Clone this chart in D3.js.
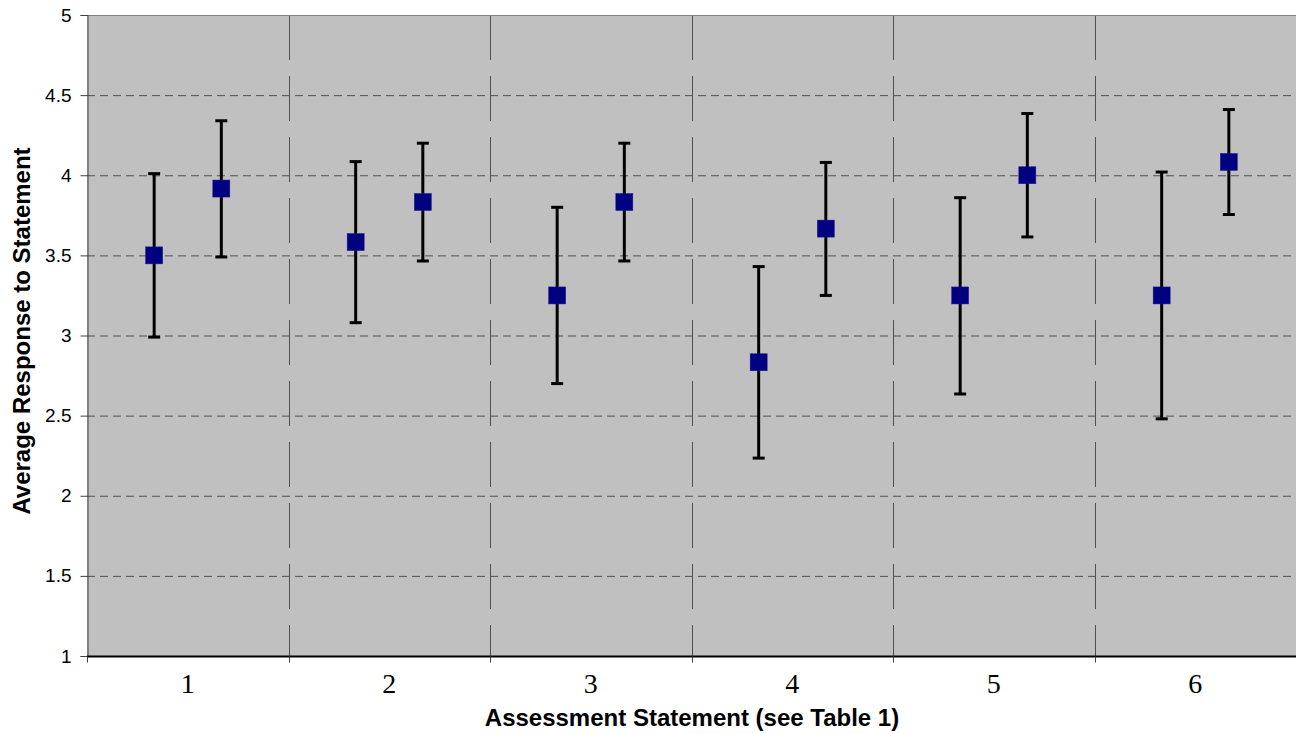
<!DOCTYPE html>
<html><head><meta charset="utf-8">
<script src="https://cdn.jsdelivr.net/npm/d3@7"></script>
<style>html,body{margin:0;padding:0;background:#fff;}svg{display:block;}</style>
</head><body>
<svg id="c" width="1296" height="734"></svg>
<script>
const categories = ["1","2","3","4","5","6"];
const seriesA = [3.5, 3.583, 3.25, 2.833, 3.25, 3.25];
const seriesAHigh = [4.01, 4.085, 3.80, 3.43, 3.86, 4.02];
const seriesALow = [2.99, 3.08, 2.70, 2.235, 2.635, 2.48];
const seriesB = [3.917, 3.833, 3.833, 3.667, 4.0, 4.083];
const seriesBHigh = [4.34, 4.20, 4.20, 4.08, 4.385, 4.41];
const seriesBLow = [3.49, 3.465, 3.465, 3.25, 3.615, 3.755];
const yTicks = [1, 1.5, 2, 2.5, 3, 3.5, 4, 4.5, 5];

const svg = d3.select("#c");
const L = 87, R = 1296, T = 15, B = 656;
const x = d3.scaleBand().domain(categories).range([L, R]).padding(0);
const y = d3.scaleLinear().domain([1, 5]).range([B, T]);

svg.append("rect").attr("x", L).attr("y", T).attr("width", R - L).attr("height", B - T).attr("fill", "#c0c0c0");

// horizontal gridlines
svg.append("g").selectAll("line").data(yTicks.filter(d => d > 1 && d < 5)).join("line")
  .attr("x1", L).attr("x2", R).attr("y1", d => y(d) + 0.5).attr("y2", d => y(d) + 0.5)
  .attr("stroke", "#505050").attr("stroke-width", 1).attr("stroke-dasharray", "8,5");
// vertical gridlines
svg.append("g").selectAll("line").data(categories.slice(1)).join("line")
  .attr("x1", d => Math.round(x(d)) + 0.5).attr("x2", d => Math.round(x(d)) + 0.5)
  .attr("y1", T).attr("y2", B)
  .attr("stroke", "#505050").attr("stroke-width", 1).attr("stroke-dasharray", "45,16");
// top border
svg.append("line").attr("x1", L).attr("x2", R).attr("y1", T + 0.5).attr("y2", T + 0.5).attr("stroke", "#808080");

// y axis
const yAxis = d3.axisLeft(y).tickValues(yTicks).tickSize(7).tickFormat(d3.format("~g"));
const gy = svg.append("g").attr("transform", `translate(${L + 0.5},0)`).call(yAxis);
gy.select(".domain").attr("stroke", "#404040");
gy.selectAll(".tick line").attr("stroke", "#404040");
gy.selectAll("text").attr("font-family", "Liberation Sans, Arial, sans-serif").attr("font-size", 19).attr("fill", "#000").attr("dx", "-6");

// x axis
const gx = svg.append("g").attr("transform", `translate(0,${B + 0.5})`);
gx.append("line").attr("x1", L).attr("x2", R).attr("stroke", "#000").attr("stroke-width", 2);
const bounds = categories.map(c => x(c));
gx.selectAll("line.tk").data(bounds).join("line").attr("class", "tk")
  .attr("x1", d => Math.round(d) + 0.5).attr("x2", d => Math.round(d) + 0.5).attr("y1", 0).attr("y2", 6)
  .attr("stroke", "#404040");
gx.selectAll("text").data(categories).join("text")
  .attr("x", d => x(d) + x.bandwidth() / 2).attr("y", 36)
  .attr("text-anchor", "middle").attr("font-family", "Liberation Serif, Times New Roman, serif")
  .attr("font-size", 28).text(d => d);

// error bars and markers
const pts = [];
categories.forEach((c, i) => {
  pts.push({cx: x(c) + x.bandwidth() / 3, v: seriesA[i], hi: seriesAHigh[i], lo: seriesALow[i]});
  pts.push({cx: x(c) + 2 * x.bandwidth() / 3, v: seriesB[i], hi: seriesBHigh[i], lo: seriesBLow[i]});
});
const eg = svg.append("g");
pts.forEach(p => {
  eg.append("line").attr("x1", p.cx).attr("x2", p.cx).attr("y1", y(p.hi)).attr("y2", y(p.lo)).attr("stroke", "#000").attr("stroke-width", 3);
  [p.hi, p.lo].forEach(v => eg.append("line").attr("x1", p.cx - 6).attr("x2", p.cx + 6).attr("y1", y(v)).attr("y2", y(v)).attr("stroke", "#000").attr("stroke-width", 3));
});
svg.append("g").selectAll("rect").data(pts).join("rect")
  .attr("x", d => d.cx - 8.5).attr("y", d => y(d.v) - 8.5).attr("width", 17).attr("height", 17)
  .attr("fill", "#000080").attr("stroke", "#1a1a8a").attr("stroke-width", 0.5);

// titles
svg.append("text").attr("x", 692).attr("y", 726).attr("text-anchor", "middle")
  .attr("font-family", "Liberation Sans, Arial, sans-serif").attr("font-weight", "bold").attr("font-size", 24)
  .text("Assessment Statement (see Table 1)");
svg.append("text").attr("transform", `translate(30,331) rotate(-90)`).attr("text-anchor", "middle")
  .attr("font-family", "Liberation Sans, Arial, sans-serif").attr("font-weight", "bold").attr("font-size", 24)
  .text("Average Response to Statement");
</script>
</body></html>
